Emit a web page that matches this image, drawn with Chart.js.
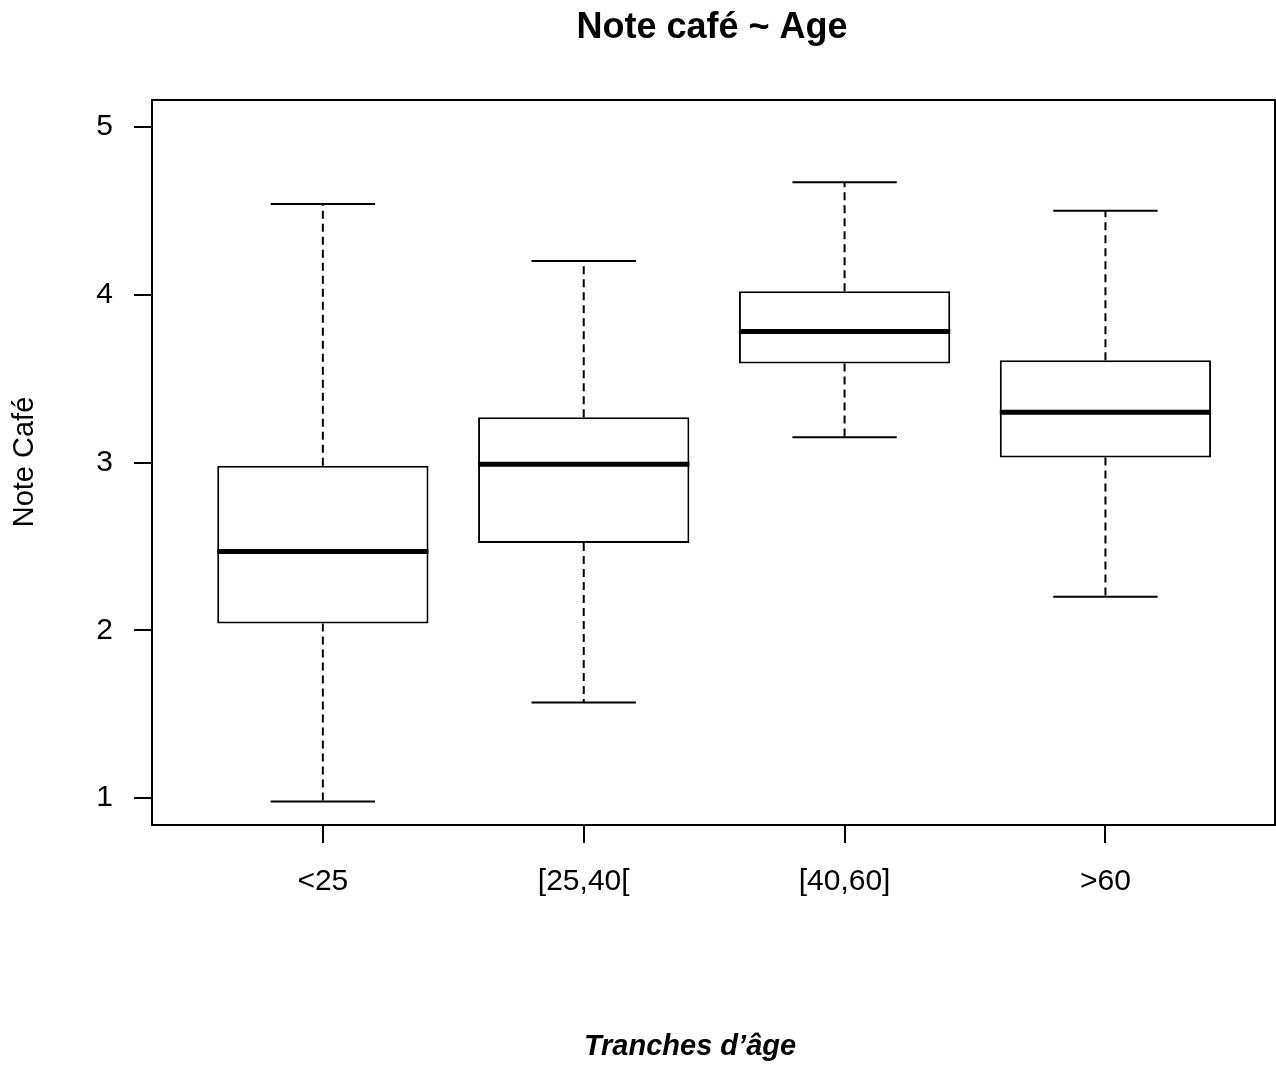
<!DOCTYPE html>
<html>
<head>
<meta charset="utf-8">
<script src="https://cdn.jsdelivr.net/npm/chart.js@4"></script>
<style>
  body { margin: 0; background: #fff; }
  canvas { display: block; }
</style>
</head>
<body>
<canvas id="graficoCafe" width="1276" height="1065"></canvas>
<script>
// Données
const categories = ["<25", "[25,40[", "[40,60]", ">60"];
const positions = [1, 2, 3, 4];
const whiskerLow = [0.98, 1.57, 3.15, 2.20];
const q1 = [2.04, 2.52, 3.59, 3.03];
const mediane = [2.47, 2.99, 3.78, 3.30];
const q3 = [2.98, 3.27, 4.02, 3.61];
const whiskerHigh = [4.54, 4.20, 4.67, 4.50];
const yTicks = [1, 2, 3, 4, 5];

const police = "'Liberation Sans', Arial, sans-serif";

// moustaches, médianes, cadre et titres
const boxPlugin = {
  id: "boxExtras",
  afterDatasetsDraw(chart) {
    const ctx = chart.ctx;
    const x = chart.scales.x;
    const y = chart.scales.y;
    ctx.save();
    ctx.strokeStyle = "#000";
    positions.forEach((p, i) => {
      const cx = x.getPixelForValue(p);
      const capL = x.getPixelForValue(p - 0.2);
      const capR = x.getPixelForValue(p + 0.2);
      const boxL = x.getPixelForValue(p - 0.405);
      const boxR = x.getPixelForValue(p + 0.405);

      // moustaches pointillées
      ctx.lineWidth = 2;
      ctx.setLineDash([8, 5]);
      ctx.beginPath();
      ctx.moveTo(cx, y.getPixelForValue(q3[i]));
      ctx.lineTo(cx, y.getPixelForValue(whiskerHigh[i]));
      ctx.moveTo(cx, y.getPixelForValue(q1[i]));
      ctx.lineTo(cx, y.getPixelForValue(whiskerLow[i]));
      ctx.stroke();

      // extrémités
      ctx.setLineDash([]);
      ctx.beginPath();
      ctx.moveTo(capL, y.getPixelForValue(whiskerHigh[i]));
      ctx.lineTo(capR, y.getPixelForValue(whiskerHigh[i]));
      ctx.moveTo(capL, y.getPixelForValue(whiskerLow[i]));
      ctx.lineTo(capR, y.getPixelForValue(whiskerLow[i]));
      ctx.stroke();

      // médiane
      ctx.lineWidth = 5;
      ctx.beginPath();
      ctx.moveTo(boxL, y.getPixelForValue(mediane[i]));
      ctx.lineTo(boxR, y.getPixelForValue(mediane[i]));
      ctx.stroke();
    });

    // cadre
    const a = chart.chartArea;
    ctx.lineWidth = 2;
    ctx.strokeRect(a.left, a.top, a.right - a.left, a.bottom - a.top);
    ctx.restore();
  },
  afterDraw(chart) {
    const ctx = chart.ctx;
    ctx.save();
    ctx.fillStyle = "#000";
    ctx.textBaseline = "alphabetic";
    ctx.textAlign = "center";

    ctx.font = "bold 36px " + police;
    ctx.fillText("Note café ~ Age", 712, 38);

    ctx.font = "italic bold 29px " + police;
    ctx.fillText("Tranches d’âge", 690, 1055);

    ctx.font = "29px " + police;
    ctx.translate(33, 462);
    ctx.rotate(-Math.PI / 2);
    ctx.fillText("Note Café", 0, 0);
    ctx.restore();
  }
};

const ctx = document.getElementById("graficoCafe").getContext("2d");
new Chart(ctx, {
  type: "bar",
  data: {
    datasets: [{
      label: "Note café",
      data: positions.map((p, i) => ({ x: p, y: [q1[i], q3[i]] })),
      backgroundColor: "#fff",
      borderColor: "#000",
      borderWidth: 2,
      borderSkipped: false,
      barPercentage: 1,
      categoryPercentage: 0.81
    }]
  },
  options: {
    responsive: false,
    animation: false,
    layout: { padding: { top: 100, right: 1, left: 0, bottom: 0 } },
    plugins: {
      legend: { display: false },
      tooltip: { enabled: false },
      title: { display: false }
    },
    scales: {
      x: {
        type: "linear",
        offset: false,
        min: 0.345,
        max: 4.65,
        afterFit: (scale) => { scale.height = 240; },
        afterBuildTicks: (scale) => { scale.ticks = positions.map(v => ({ value: v })); },
        grid: { offset: false, drawOnChartArea: false, drawTicks: true, tickLength: 18, color: "#000", lineWidth: 2 },
        border: { display: false },
        ticks: {
          color: "#000",
          font: { family: police, size: 30 },
          padding: 21,
          maxRotation: 0,
          autoSkip: false,
          callback: (v) => categories[positions.indexOf(v)]
        }
      },
      y: {
        min: 0.84,
        max: 5.16,
        afterFit: (scale) => { scale.width = 152; },
        afterBuildTicks: (scale) => { scale.ticks = yTicks.map(v => ({ value: v })); },
        grid: { drawOnChartArea: false, drawTicks: true, tickLength: 18, color: "#000", lineWidth: 2 },
        border: { display: false },
        ticks: {
          color: "#000",
          font: { family: police, size: 30 },
          padding: 21,
          callback: (v) => String(v)
        }
      }
    }
  },
  plugins: [boxPlugin]
});
</script>
</body>
</html>
